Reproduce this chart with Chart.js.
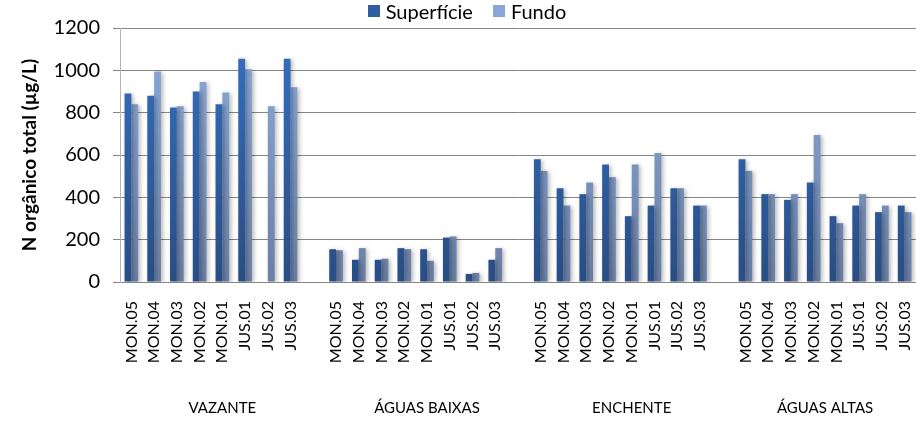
<!DOCTYPE html>
<html lang="pt">
<head>
<meta charset="utf-8">
<script src="https://cdn.jsdelivr.net/npm/chart.js@4/dist/chart.umd.min.js"></script>
<style>
    html, body { margin: 0; padding: 0; background: #fff; }
    #wrap { position: relative; width: 916px; height: 428px; }
    #legend {
        position: absolute; top: 0; left: 0; width: 916px; height: 22px;
        display: flex; justify-content: center; align-items: center;
        font-family: Lato, sans-serif; font-size: 20px; color: #000;
        padding-left: 18px; box-sizing: border-box;
    }
    #legend span.item { display: flex; align-items: center; margin: 0 10px; }
    #legend span.box { width: 12px; height: 12px; margin-right: 6px; display: inline-block; }
</style>
</head>
<body>
<div id="wrap">
    <canvas id="chart" width="916" height="428"></canvas>
    <div id="legend"></div>
</div>
<script>
const STATIONS = ["MON.05", "MON.04", "MON.03", "MON.02", "MON.01", "JUS.01", "JUS.02", "JUS.03"];
const SEASONS = ["VAZANTE", "ÁGUAS BAIXAS", "ENCHENTE", "ÁGUAS ALTAS"];

// N orgânico total (µg/L), one array per season, in STATIONS order
const superficieVazante = [890, 880, 825, 900, 840, 1055, null, 1055];
const superficieBaixas  = [155, 105, 105, 160, 155, 210, 38, 105];
const superficieEnchente = [580, 443, 415, 555, 311, 361, 443, 361];
const superficieAltas   = [580, 415, 388, 470, 311, 361, 330, 361];

const fundoVazante  = [840, 995, 830, 945, 895, 1005, 830, 920];
const fundoBaixas   = [150, 160, 110, 155, 100, 215, 43, 160];
const fundoEnchente = [525, 361, 470, 495, 555, 610, 443, 361];
const fundoAltas    = [525, 415, 415, 695, 278, 415, 361, 330];

const Y_TICKS = { min: 0, max: 1200, step: 200 };

// seasons are separated by one empty category
function withGaps(groups) {
    const out = [];
    groups.forEach((g, i) => {
        out.push(...g);
        if (i < groups.length - 1) out.push(null);
    });
    return out;
}

const labels = withGaps(SEASONS.map(() => STATIONS)).map(l => l || "");
const superficie = withGaps([superficieVazante, superficieBaixas, superficieEnchente, superficieAltas]);
const fundo = withGaps([fundoVazante, fundoBaixas, fundoEnchente, fundoAltas]);

function gradient(top, bottom) {
    return (ctx) => {
        const area = ctx.chart.chartArea;
        if (!area) return top;
        const g = ctx.chart.ctx.createLinearGradient(0, area.top, 0, area.bottom);
        g.addColorStop(0, top);
        g.addColorStop(1, bottom);
        return g;
    };
}

const barShadow = {
    id: "barShadow",
    beforeDatasetsDraw(chart) {
        const c = chart.ctx;
        c.save();
        c.shadowColor = "rgba(0,0,0,0.28)";
        c.shadowBlur = 4;
        c.shadowOffsetX = 2;
        c.shadowOffsetY = 1;
    },
    afterDatasetsDraw(chart) {
        chart.ctx.restore();
    }
};

// season names centred under their block of stations (trailing gap included)
const seasonLabels = {
    id: "seasonLabels",
    afterDraw(chart) {
        const x = chart.scales.x;
        const c = chart.ctx;
        c.save();
        c.font = "15px Lato";
        c.fillStyle = "#000";
        c.textAlign = "center";
        c.textBaseline = "middle";
        SEASONS.forEach((name, i) => {
            const first = i * (STATIONS.length + 1);
            const last = Math.min(first + STATIONS.length, labels.length - 1);
            const cx = (x.getPixelForValue(first) + x.getPixelForValue(last)) / 2;
            c.fillText(name, cx, 408);
        });
        c.restore();
    }
};

const chart = new Chart(document.getElementById("chart"), {
    type: "bar",
    data: {
        labels: labels,
        datasets: [
            { label: "Superfície", data: superficie, backgroundColor: gradient("#3571c2", "#294d84"), swatch: "#2f5f9f" },
            { label: "Fundo", data: fundo, backgroundColor: gradient("#8cacdc", "#6a7fa5"), swatch: "#8aa6d6" }
        ]
    },
    options: {
        responsive: false,
        animation: false,
        layout: { padding: { top: 28, left: 0, right: 0, bottom: 0 } },
        datasets: { bar: { categoryPercentage: 0.6, barPercentage: 1.0 } },
        plugins: {
            legend: { display: false },
            tooltip: { enabled: false }
        },
        scales: {
            x: {
                afterFit(scale) {
                    scale.height = 146;
                    scale.paddingLeft = 0;
                    scale.paddingRight = 0;
                },
                grid: { display: false, drawTicks: false },
                border: { display: true, color: "#868686" },
                ticks: {
                    autoSkip: false, maxRotation: 90, minRotation: 90, padding: 19,
                    font: { family: "Lato", size: 16 }, color: "#000"
                }
            },
            y: {
                min: Y_TICKS.min,
                max: Y_TICKS.max,
                afterFit(scale) { scale.width = 120; },
                grid: { color: "#868686", tickLength: 7, drawTicks: true },
                border: { display: true, color: "#b4b4b4" },
                ticks: {
                    stepSize: Y_TICKS.step, padding: 13,
                    callback: v => String(v),
                    font: { family: "Lato", size: 20 }, color: "#000"
                },
                title: {
                    display: true,
                    text: "N orgânico total (µg/L)",
                    font: { family: "Lato", size: 19, weight: "bold" },
                    color: "#000",
                    padding: { top: 18, bottom: 0 }
                }
            }
        }
    },
    plugins: [barShadow, seasonLabels]
});

const legendEl = document.getElementById("legend");
chart.data.datasets.forEach(ds => {
    const item = document.createElement("span");
    item.className = "item";
    const box = document.createElement("span");
    box.className = "box";
    box.style.background = ds.swatch;
    item.appendChild(box);
    item.appendChild(document.createTextNode(ds.label));
    legendEl.appendChild(item);
});
</script>
</body>
</html>
